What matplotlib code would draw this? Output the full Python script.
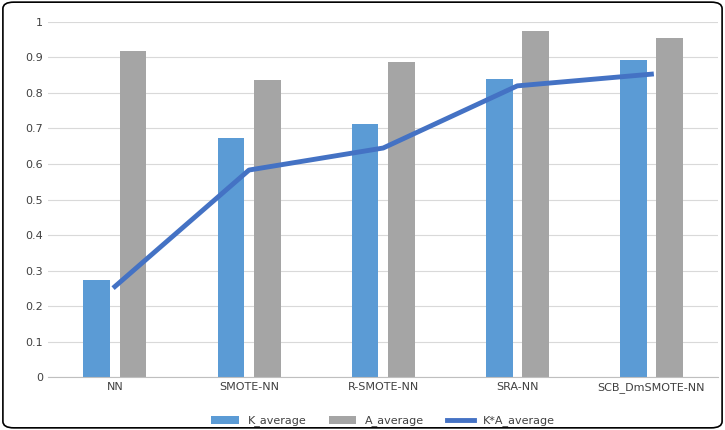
import matplotlib
matplotlib.use("Agg")
import matplotlib.pyplot as plt
import numpy as np
from matplotlib.patches import FancyBboxPatch

categories = ["NN", "SMOTE-NN", "R-SMOTE-NN", "SRA-NN", "SCB_DmSMOTE-NN"]
k_average = [0.273, 0.672, 0.712, 0.839, 0.893]
a_average = [0.918, 0.836, 0.887, 0.975, 0.955]
ka_average = [0.255, 0.583, 0.645, 0.820, 0.853]

fig = plt.figure(figsize=(7.25, 4.30), dpi=100)
ax = fig.add_axes([0.066, 0.123, 0.925, 0.826])
x = np.arange(len(categories))
w = 0.2
b1 = ax.bar(x - w/2 - 0.035, k_average, w, color="#5B9BD5", label="K_average", zorder=2)
b2 = ax.bar(x + w/2 + 0.035, a_average, w, color="#A5A5A5", label="A_average", zorder=2)
l1, = ax.plot(x, ka_average, color="#4472C4", lw=3.5, label="K*A_average", zorder=3)
ax.set_xlim(-0.5, 4.5)
ax.set_ylim(0, 1)
ax.set_yticks(np.arange(0, 1.01, 0.1))
ax.set_yticklabels(["0"] + [f"{v:.1f}" for v in np.arange(0.1, 0.95, 0.1)] + ["1"])
ax.set_xticks(x)
ax.set_xticklabels(categories)
ax.grid(axis="y", color="#D9D9D9", lw=0.8, zorder=0)
for s in ["top", "right", "left"]:
    ax.spines[s].set_visible(False)
ax.spines["bottom"].set_color("#BFBFBF")
ax.tick_params(length=0, labelsize=8, colors="#404040")
ax.legend(handles=[b1, b2, l1], loc="upper center", bbox_to_anchor=(0.5, -0.08), ncol=3, frameon=False,
          fontsize=8, handlelength=2.5, labelcolor="#404040")
fig.patches.append(FancyBboxPatch((0.004, 0.005), 0.992, 0.99, boxstyle="round,pad=0,rounding_size=0.015",
                                  transform=fig.transFigure, fill=False, ec="black", lw=1.2))
fig.savefig("out.png", dpi=100)
